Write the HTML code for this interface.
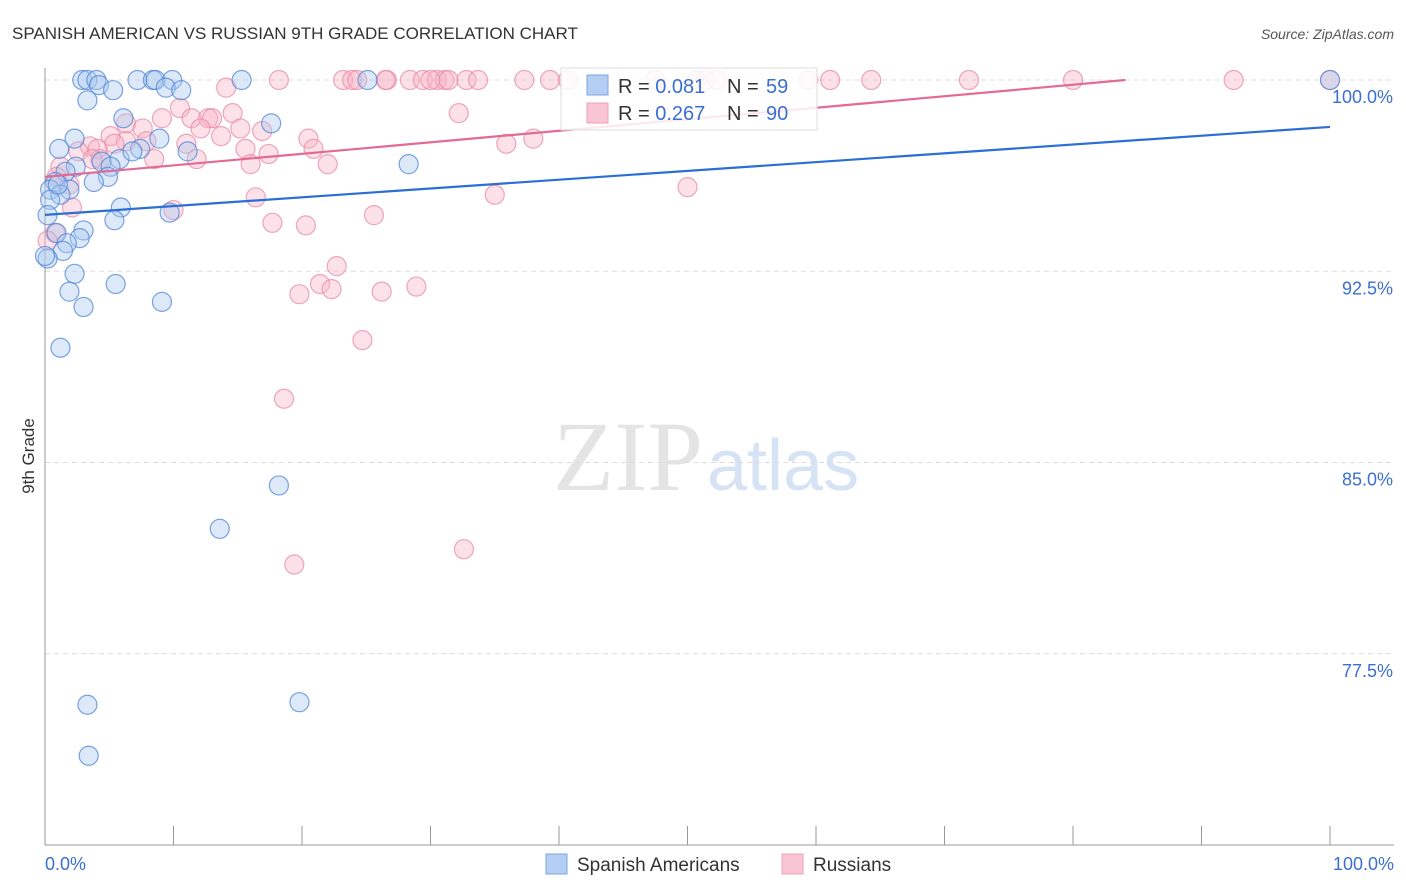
<!DOCTYPE html>
<html><head><meta charset="utf-8"><style>
body{margin:0;background:#fff;font-family:"Liberation Sans",sans-serif}
</style></head><body>
<svg id="c" width="1406" height="892" xmlns="http://www.w3.org/2000/svg" style="display:block">
<text x="12" y="39" font-size="17" fill="#333">SPANISH AMERICAN VS RUSSIAN 9TH GRADE CORRELATION CHART</text>
<text x="1394" y="39" font-size="14" fill="#555" text-anchor="end" font-style="italic">Source: ZipAtlas.com</text>
<text x="553" y="490" font-size="100" font-family="Liberation Serif,serif" fill="#e4e4e4">ZIP<tspan fill="#d6e3f5" font-family="Liberation Sans,sans-serif" font-size="72" dx="4">atlas</tspan></text>
<g id="grid"></g><g id="pts"></g><g id="lines"></g>
<text transform="translate(34,456) rotate(-90)" font-size="17" fill="#333" text-anchor="middle">9th Grade</text>
<g>
<rect x="561" y="68" width="256" height="62" fill="#fff" fill-opacity="0.85" stroke="#ddd"/>
<rect x="587" y="75" width="21" height="20" fill="#b4cff3" stroke="#7aa6e3"/>
<rect x="587" y="103" width="21" height="20" fill="#f9c4d3" stroke="#eea0b7"/>
<text x="618" y="93" font-size="20" fill="#333">R = <tspan fill="#3b6fd1">0.081</tspan><tspan x="727">N = </tspan><tspan fill="#3b6fd1" x="766">59</tspan></text>
<text x="618" y="120" font-size="20" fill="#333">R = <tspan fill="#3b6fd1">0.267</tspan><tspan x="727">N = </tspan><tspan fill="#3b6fd1" x="766">90</tspan></text>
</g>
<g>
<rect x="546" y="854" width="21" height="20" fill="#b4cff3" stroke="#7aa6e3"/>
<text x="577" y="871" font-size="19" fill="#333">Spanish Americans</text>
<rect x="782" y="854" width="21" height="20" fill="#f9c4d3" stroke="#eea0b7"/>
<text x="813" y="871" font-size="19" fill="#333">Russians</text>
</g>
</svg>
<script>
const yTicks=[100,92.5,85,77.5];
const yTickLabels=["100.0%","92.5%","85.0%","77.5%"];
const xTickLabels=["0.0%","100.0%"];
const blueX=[2.9,3.3,4.0,4.2,7.2,8.4,8.6,9.9,15.3,25.1,100,5.3,9.4,10.6,3.3,6.1,17.6,2.3,8.9,1.1,7.4,11.1,5.8,4.4,6.8,28.3,5.1,2.4,4.9,3.8,1.6,0.8,0.4,1.9,1.2,0.4,5.9,5.4,9.7,3.0,0.9,2.7,1.7,1.4,0.2,2.3,5.5,1.9,9.1,3.0,1.2,18.2,13.6,3.3,19.8,3.4,0,1.0,0.2];
const blueY=[100,100,100,99.8,100,100,100,100,100,100,100,99.6,99.7,99.6,99.2,98.5,98.3,97.7,97.7,97.3,97.3,97.2,96.9,96.8,97.2,96.7,96.6,96.6,96.2,96.0,96.4,96.0,95.7,95.7,95.5,95.3,95.0,94.5,94.8,94.1,94.0,93.8,93.6,93.3,93.0,92.4,92.0,91.7,91.3,91.1,89.5,84.1,82.4,75.5,75.6,73.5,93.1,95.9,94.7];
const pinkX=[18.2,23.2,23.9,24.3,26.6,28.4,29.4,30.5,31.1,31.4,32.8,33.7,37.3,39.3,40.7,47.5,50.7,51.4,52.3,59.4,61.1,64.3,71.9,80.0,92.5,100,26.5,30.0,14.1,10.5,32.2,14.6,9.1,11.4,12.7,13.0,6.3,7.6,12.1,15.2,16.9,5.1,6.3,3.5,2.6,4.1,7.9,11.0,13.7,20.5,38.0,35.9,15.6,20.9,17.4,11.8,8.5,16.0,4.3,22.0,1.2,1.9,0.9,2.1,10.0,16.4,25.6,35.0,50.0,17.7,20.3,0.8,0.2,22.7,21.4,22.3,19.8,26.2,28.9,24.7,18.6,32.6,19.4,3.7,5.4];
const pinkY=[100,100,100,100,100,100,100,100,100,100,100,100,100,100,100,100,100,100,100,100,100,100,100,100,100,100,100,100,99.7,98.9,98.7,98.7,98.5,98.5,98.5,98.5,98.3,98.1,98.1,98.1,98.0,97.8,97.6,97.4,97.2,97.3,97.6,97.5,97.8,97.7,97.7,97.5,97.3,97.3,97.1,96.9,96.9,96.7,96.9,96.7,96.6,95.9,96.2,95.0,94.9,95.4,94.7,95.5,95.8,94.4,94.3,94.0,93.7,92.7,92.0,91.8,91.6,91.7,91.9,89.8,87.5,81.6,81.0,96.9,97.5];
const blueTrend=[94.71,98.16];
const pinkTrend=[96.2,100.72];
const NS="http://www.w3.org/2000/svg";
const sx=v=>45+v*12.85, sy=v=>80+(100-v)*25.5;
function mk(t,a,p){const e=document.createElementNS(NS,t);for(const k in a)e.setAttribute(k,a[k]);p.appendChild(e);return e;}
const g=document.getElementById('grid');
yTicks.forEach((t,i)=>{
 const l=mk('line',{x1:45,x2:1394,y1:sy(t),y2:sy(t),stroke:'#ddd','stroke-dasharray':'5,4'},g);
 
 
 const tx=mk('text',{x:1393,y:sy(t)+23,'font-size':18,fill:'#3b6fd1','text-anchor':'end'},g);
 tx.textContent=yTickLabels[i];
 
 
});
let ax=mk('line',{x1:45,x2:45,y1:68,y2:845,stroke:'#999'},g);


ax=mk('line',{x1:45,x2:1394,y1:845,y2:845,stroke:'#999'},g);


for(let i=0;i<=10;i++){const t=mk('line',{x1:sx(i*10),x2:sx(i*10),y1:826,y2:845,stroke:'#999'},g);
 
 }
[[0,'start'],[100,'end']].forEach((d,i)=>{const t=mk('text',{x:i?1394:45,y:870,'font-size':18,fill:'#3b6fd1','text-anchor':d[1]},g);t.textContent=xTickLabels[i];
 
 });
const p=document.getElementById('pts');
function dots(X,Y,fill,stroke,name){X.forEach((x,i)=>{const c=mk('circle',{cx:sx(x),cy:sy(Y[i]),r:9.5,fill:fill,'fill-opacity':0.4,stroke:stroke,'stroke-opacity':0.75,'stroke-width':1.2},p);
 
 });}
dots(pinkX,pinkY,'#f7b3c6','#e88aa6','russian-point');
dots(blueX,blueY,'#a9c8f0','#4f86d6','spanish-american-point');
const L=document.getElementById('lines');
let bl=mk('line',{x1:sx(0),y1:sy(blueTrend[0]),x2:sx(100),y2:sy(blueTrend[1]),stroke:'#2a6fd4','stroke-width':2.2},L);


const xe=(100-pinkTrend[0])/(pinkTrend[1]-pinkTrend[0])*100;
let pl=mk('line',{x1:sx(0),y1:sy(pinkTrend[0]),x2:sx(xe),y2:sy(100),stroke:'#e36a93','stroke-width':2.2},L);


</script>
</body></html>
